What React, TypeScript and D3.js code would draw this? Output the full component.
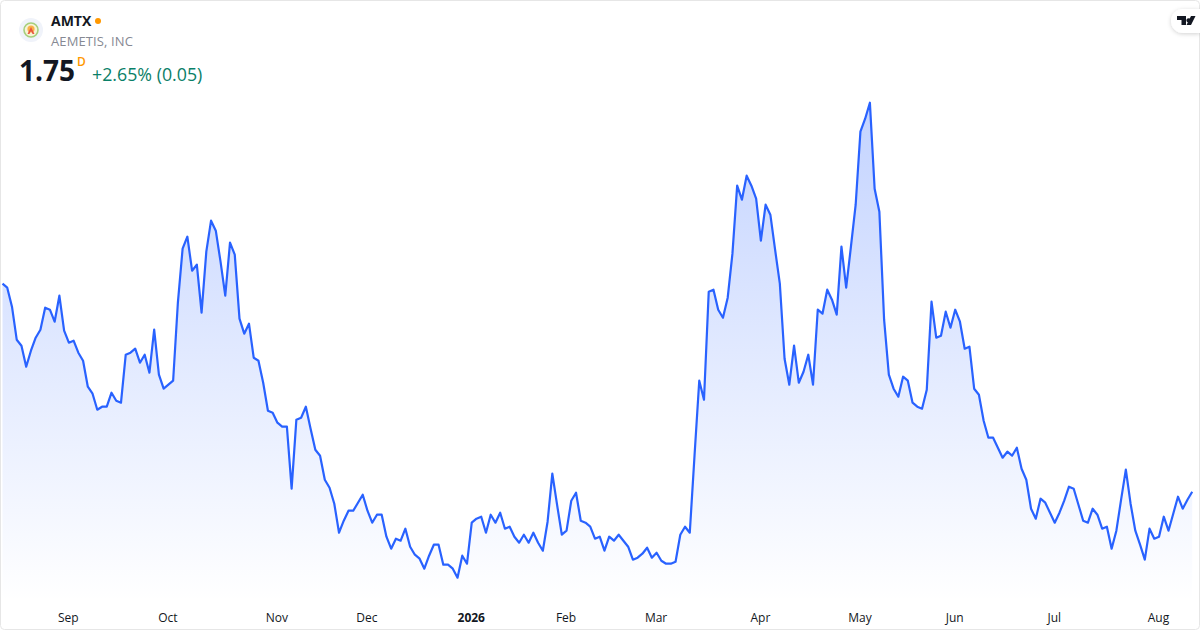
import React, { useEffect, useRef } from 'react';
import * as d3 from 'd3';

// daily closes
const closes: number[] = [
  3.83, 3.79, 3.60, 3.27, 3.21, 3.00, 3.16, 3.29, 3.37, 3.59, 3.57, 3.45, 3.71, 3.36, 3.24, 3.26,
  3.14, 3.06, 2.80, 2.73, 2.57, 2.60, 2.60, 2.74, 2.66, 2.64, 3.12, 3.14, 3.18, 3.04, 3.12, 2.94,
  3.37, 2.92, 2.78, 2.82, 2.86, 3.64, 4.18, 4.30, 3.96, 4.02, 3.54, 4.15, 4.46, 4.36, 4.05, 3.71,
  4.24, 4.12, 3.48, 3.33, 3.43, 3.09, 3.06, 2.84, 2.56, 2.54, 2.44, 2.40, 2.40, 1.78, 2.47, 2.49,
  2.60, 2.38, 2.17, 2.11, 1.87, 1.79, 1.63, 1.34, 1.46, 1.56, 1.56, 1.64, 1.72, 1.56, 1.44, 1.52,
  1.52, 1.30, 1.18, 1.28, 1.26, 1.38, 1.20, 1.12, 1.08, 0.98, 1.11, 1.22, 1.22, 1.02, 1.02, 0.98,
  0.89, 1.11, 1.03, 1.44, 1.48, 1.50, 1.34, 1.52, 1.44, 1.54, 1.38, 1.40, 1.30, 1.24, 1.32, 1.24,
  1.34, 1.24, 1.16, 1.45, 1.93, 1.62, 1.32, 1.36, 1.66, 1.74, 1.46, 1.44, 1.40, 1.28, 1.30, 1.16,
  1.30, 1.26, 1.32, 1.26, 1.20, 1.07, 1.09, 1.13, 1.19, 1.09, 1.14, 1.06, 1.03, 1.03, 1.05, 1.32,
  1.40, 1.34, 2.11, 2.86, 2.67, 3.75, 3.77, 3.57, 3.49, 3.69, 4.13, 4.81, 4.67, 4.91, 4.81, 4.68,
  4.26, 4.62, 4.52, 4.17, 3.83, 3.08, 2.82, 3.21, 2.84, 2.95, 3.12, 2.82, 3.57, 3.53, 3.77, 3.67,
  3.52, 4.20, 3.79, 4.20, 4.62, 5.35, 5.48, 5.64, 4.78, 4.55, 3.47, 2.92, 2.78, 2.70, 2.90, 2.86,
  2.64, 2.60, 2.58, 2.77, 3.65, 3.29, 3.31, 3.55, 3.39, 3.57, 3.45, 3.18, 3.20, 2.78, 2.72, 2.46,
  2.29, 2.29, 2.19, 2.09, 2.15, 2.11, 2.19, 1.98, 1.87, 1.58, 1.48, 1.68, 1.64, 1.54, 1.44, 1.54,
  1.66, 1.80, 1.78, 1.62, 1.46, 1.44, 1.58, 1.52, 1.38, 1.40, 1.18, 1.36, 1.67, 1.97, 1.63, 1.36,
  1.22, 1.07, 1.38, 1.28, 1.30, 1.50, 1.36, 1.53, 1.70, 1.58, 1.67, 1.75,
];

const tickLabels = ['Sep', 'Oct', 'Nov', 'Dec', '2026', 'Feb', 'Mar', 'Apr', 'May', 'Jun', 'Jul', 'Aug'];
const tickIndexes = [14, 35, 58, 77, 99, 119, 138, 160, 181, 201, 222, 244];
const boldTicks = ['2026'];

const symbol = 'AMTX';
const companyName = 'AEMETIS, INC';
const lastPrice = '1.75';
const interval = 'D';
const priceChange = '+2.65% (0.05)';

const width = 1200;
const height = 630;
const font = '"Open Sans", "Noto Sans", sans-serif';

export default function App() {
  const svgRef = useRef<SVGSVGElement>(null);

  useEffect(() => {
    if (!svgRef.current) return;
    const svg = d3.select(svgRef.current);
    svg.selectAll('*').remove();

    const x = d3.scaleLinear().domain([0, closes.length - 1]).range([2.5, 1192.2]);
    const y = d3.scaleLinear().domain([0.65, 5.65]).range([601.7, 101.7]);

    const defs = svg.append('defs');
    const grad = defs
      .append('linearGradient')
      .attr('id', 'areaFill')
      .attr('gradientUnits', 'userSpaceOnUse')
      .attr('x1', 0)
      .attr('x2', 0)
      .attr('y1', y(5.65))
      .attr('y2', y(0.65));
    grad.append('stop').attr('offset', '0%').attr('stop-color', '#2962ff').attr('stop-opacity', 0.28);
    grad.append('stop').attr('offset', '100%').attr('stop-color', '#2962ff').attr('stop-opacity', 0);

    const shadow = defs.append('filter').attr('id', 'chipShadow').attr('x', '-30%').attr('y', '-30%').attr('width', '160%').attr('height', '170%');
    shadow
      .append('feDropShadow')
      .attr('dx', 0)
      .attr('dy', 1)
      .attr('stdDeviation', 2)
      .attr('flood-color', '#000')
      .attr('flood-opacity', 0.18);

    svg.append('rect').attr('width', width).attr('height', height).attr('fill', '#fff');

    const area = d3
      .area<number>()
      .x((_, i) => x(i))
      .y0(y(0.65))
      .y1((d) => y(d));
    const line = d3
      .line<number>()
      .x((_, i) => x(i))
      .y((d) => y(d));

    svg.append('path').datum(closes).attr('d', area).attr('fill', 'url(#areaFill)');
    svg
      .append('path')
      .datum(closes)
      .attr('d', line)
      .attr('fill', 'none')
      .attr('stroke', '#2962ff')
      .attr('stroke-width', 2.2)
      .attr('stroke-linejoin', 'round');

    // time axis
    const axis = svg
      .append('g')
      .attr('transform', 'translate(-1,607)')
      .call(
        d3
          .axisBottom(x)
          .tickValues(tickIndexes)
          .tickSize(0)
          .tickPadding(6)
          .tickFormat((_, i) => tickLabels[i])
      );
    axis.select('.domain').remove();
    axis
      .selectAll<SVGTextElement, number>('text')
      .attr('font-family', font)
      .attr('font-size', 12)
      .attr('fill', '#131722')
      .attr('font-weight', (_, i) => (boldTicks.includes(tickLabels[i]) ? 700 : 400));

    // outer frame
    svg
      .append('rect')
      .attr('x', 0.5)
      .attr('y', 0.5)
      .attr('width', width - 1)
      .attr('height', height - 1)
      .attr('rx', 4)
      .attr('fill', 'none')
      .attr('stroke', '#e6e6e6');

    // logo
    const logo = svg.append('g').attr('transform', 'translate(31,30)');
    logo.append('circle').attr('r', 12).attr('fill', '#f0f3fa');
    logo.append('circle').attr('r', 7).attr('fill', '#f7f3d6').attr('stroke', '#a5cf7c').attr('stroke-width', 1.6);
    logo.append('circle').attr('r', 3.6).attr('cy', -1).attr('fill', '#f9b24a');
    logo.append('path').attr('d', 'M-3.5 4 L0 -3 L3.5 4 L1.6 4 L0 1 L-1.6 4 Z').attr('fill', '#e8553f');

    // header
    const text = (tx: number, ty: number, s: string, size: number, color: string, weight = 400) =>
      svg
        .append('text')
        .attr('x', tx)
        .attr('y', ty)
        .attr('font-family', font)
        .attr('font-size', size)
        .attr('font-weight', weight)
        .attr('fill', color)
        .text(s);

    text(51, 26, symbol, 14, '#131722', 700);
    svg.append('circle').attr('cx', 98).attr('cy', 21).attr('r', 3).attr('fill', '#ff9800');
    text(51, 45.5, companyName, 13, '#868993').attr('letter-spacing', 0.12);
    text(19, 81, lastPrice, 28, '#131722', 700);
    text(77, 66, interval, 12, '#ff9800', 600);
    text(92, 81, priceChange, 17.8, '#0a8068');

    // tradingview chip
    svg
      .append('path')
      .attr('d', 'M1200 9 H1183 A12 12 0 0 0 1183 33 H1200 Z')
      .attr('fill', '#fff')
      .attr('filter', 'url(#chipShadow)');
    svg
      .append('path')
      .attr('d', 'M1177 16 H1186 V25 H1181.5 V20 H1177 Z M1188.6 18.2 A2.2 2.2 0 1 1 1188.59 18.2 Z M1191 16 H1195.5 L1191 25 H1186.5 Z')
      .attr('fill', '#131722');
  }, []);

  return (
    <svg
      ref={svgRef}
      width={width}
      height={height}
      style={{ position: 'absolute', left: 0, top: 0, display: 'block' }}
    />
  );
}
